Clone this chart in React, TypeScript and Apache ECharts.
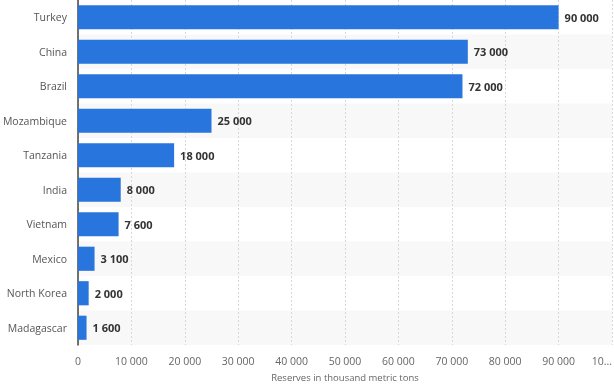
import React, { useEffect, useRef } from "react";
import * as echarts from "echarts";

const categories = ["Turkey", "China", "Brazil", "Mozambique", "Tanzania", "India", "Vietnam", "Mexico", "North Korea", "Madagascar"];
const reserves = [90000, 73000, 72000, 25000, 18000, 8000, 7600, 3100, 2000, 1600];
const axisTitle = "Reserves in thousand metric tons";

const fmt = (v: number) => String(v).replace(/\B(?=(\d{3})+(?!\d))/g, " ");

export default function App() {
  const ref = useRef<HTMLDivElement>(null);
  useEffect(() => {
    const chart = echarts.init(ref.current!, null, { renderer: "svg" });
    chart.setOption({
      animation: false,
      grid: { left: 78, right: 2, top: 0, bottom: 42, containLabel: false, outerBoundsMode: "none" },
      xAxis: {
        type: "value",
        min: 0,
        max: 100000,
        interval: 10000,
        name: axisTitle,
        nameLocation: "middle",
        nameGap: 27,
        nameTextStyle: { color: "#666", fontSize: 9.5, fontFamily: "Open Sans" },
        axisLine: { show: false },
        axisTick: { show: false },
        axisLabel: {
          color: "#666",
          fontSize: 10.5,
          fontFamily: "Open Sans",
          margin: 10,
          alignMaxLabel: "right",
          formatter: (v: number) => (v >= 100000 ? fmt(v).slice(0, 2) + "..." : fmt(v)),
        },
        splitLine: { show: true, lineStyle: { color: "#d8d8d8", type: [2, 2], width: 1 } },
      },
      yAxis: {
        type: "category",
        data: categories,
        inverse: true,
        axisLine: { show: true, lineStyle: { color: "#444", width: 1.5 } },
        axisTick: { show: false },
        axisLabel: { color: "#555", fontSize: 10.5, fontFamily: "Open Sans", margin: 11 },
        splitArea: { show: true, areaStyle: { color: ["#ffffff", "#f8f8f8"] } },
      },
      series: [
        {
          type: "bar",
          data: reserves,
          barWidth: "70%",
          itemStyle: { color: "#2876dd" },
          label: {
            show: true,
            position: "right",
            distance: 6,
            color: "#333",
            fontWeight: "bold",
            fontSize: 11,
            fontFamily: "Open Sans",
            formatter: (p: any) => fmt(p.value),
          },
        },
      ],
    });
    return () => chart.dispose();
  }, []);
  return <div ref={ref} style={{ width: 614, height: 387, position: "fixed", left: 0, top: 0 }} />;
}
